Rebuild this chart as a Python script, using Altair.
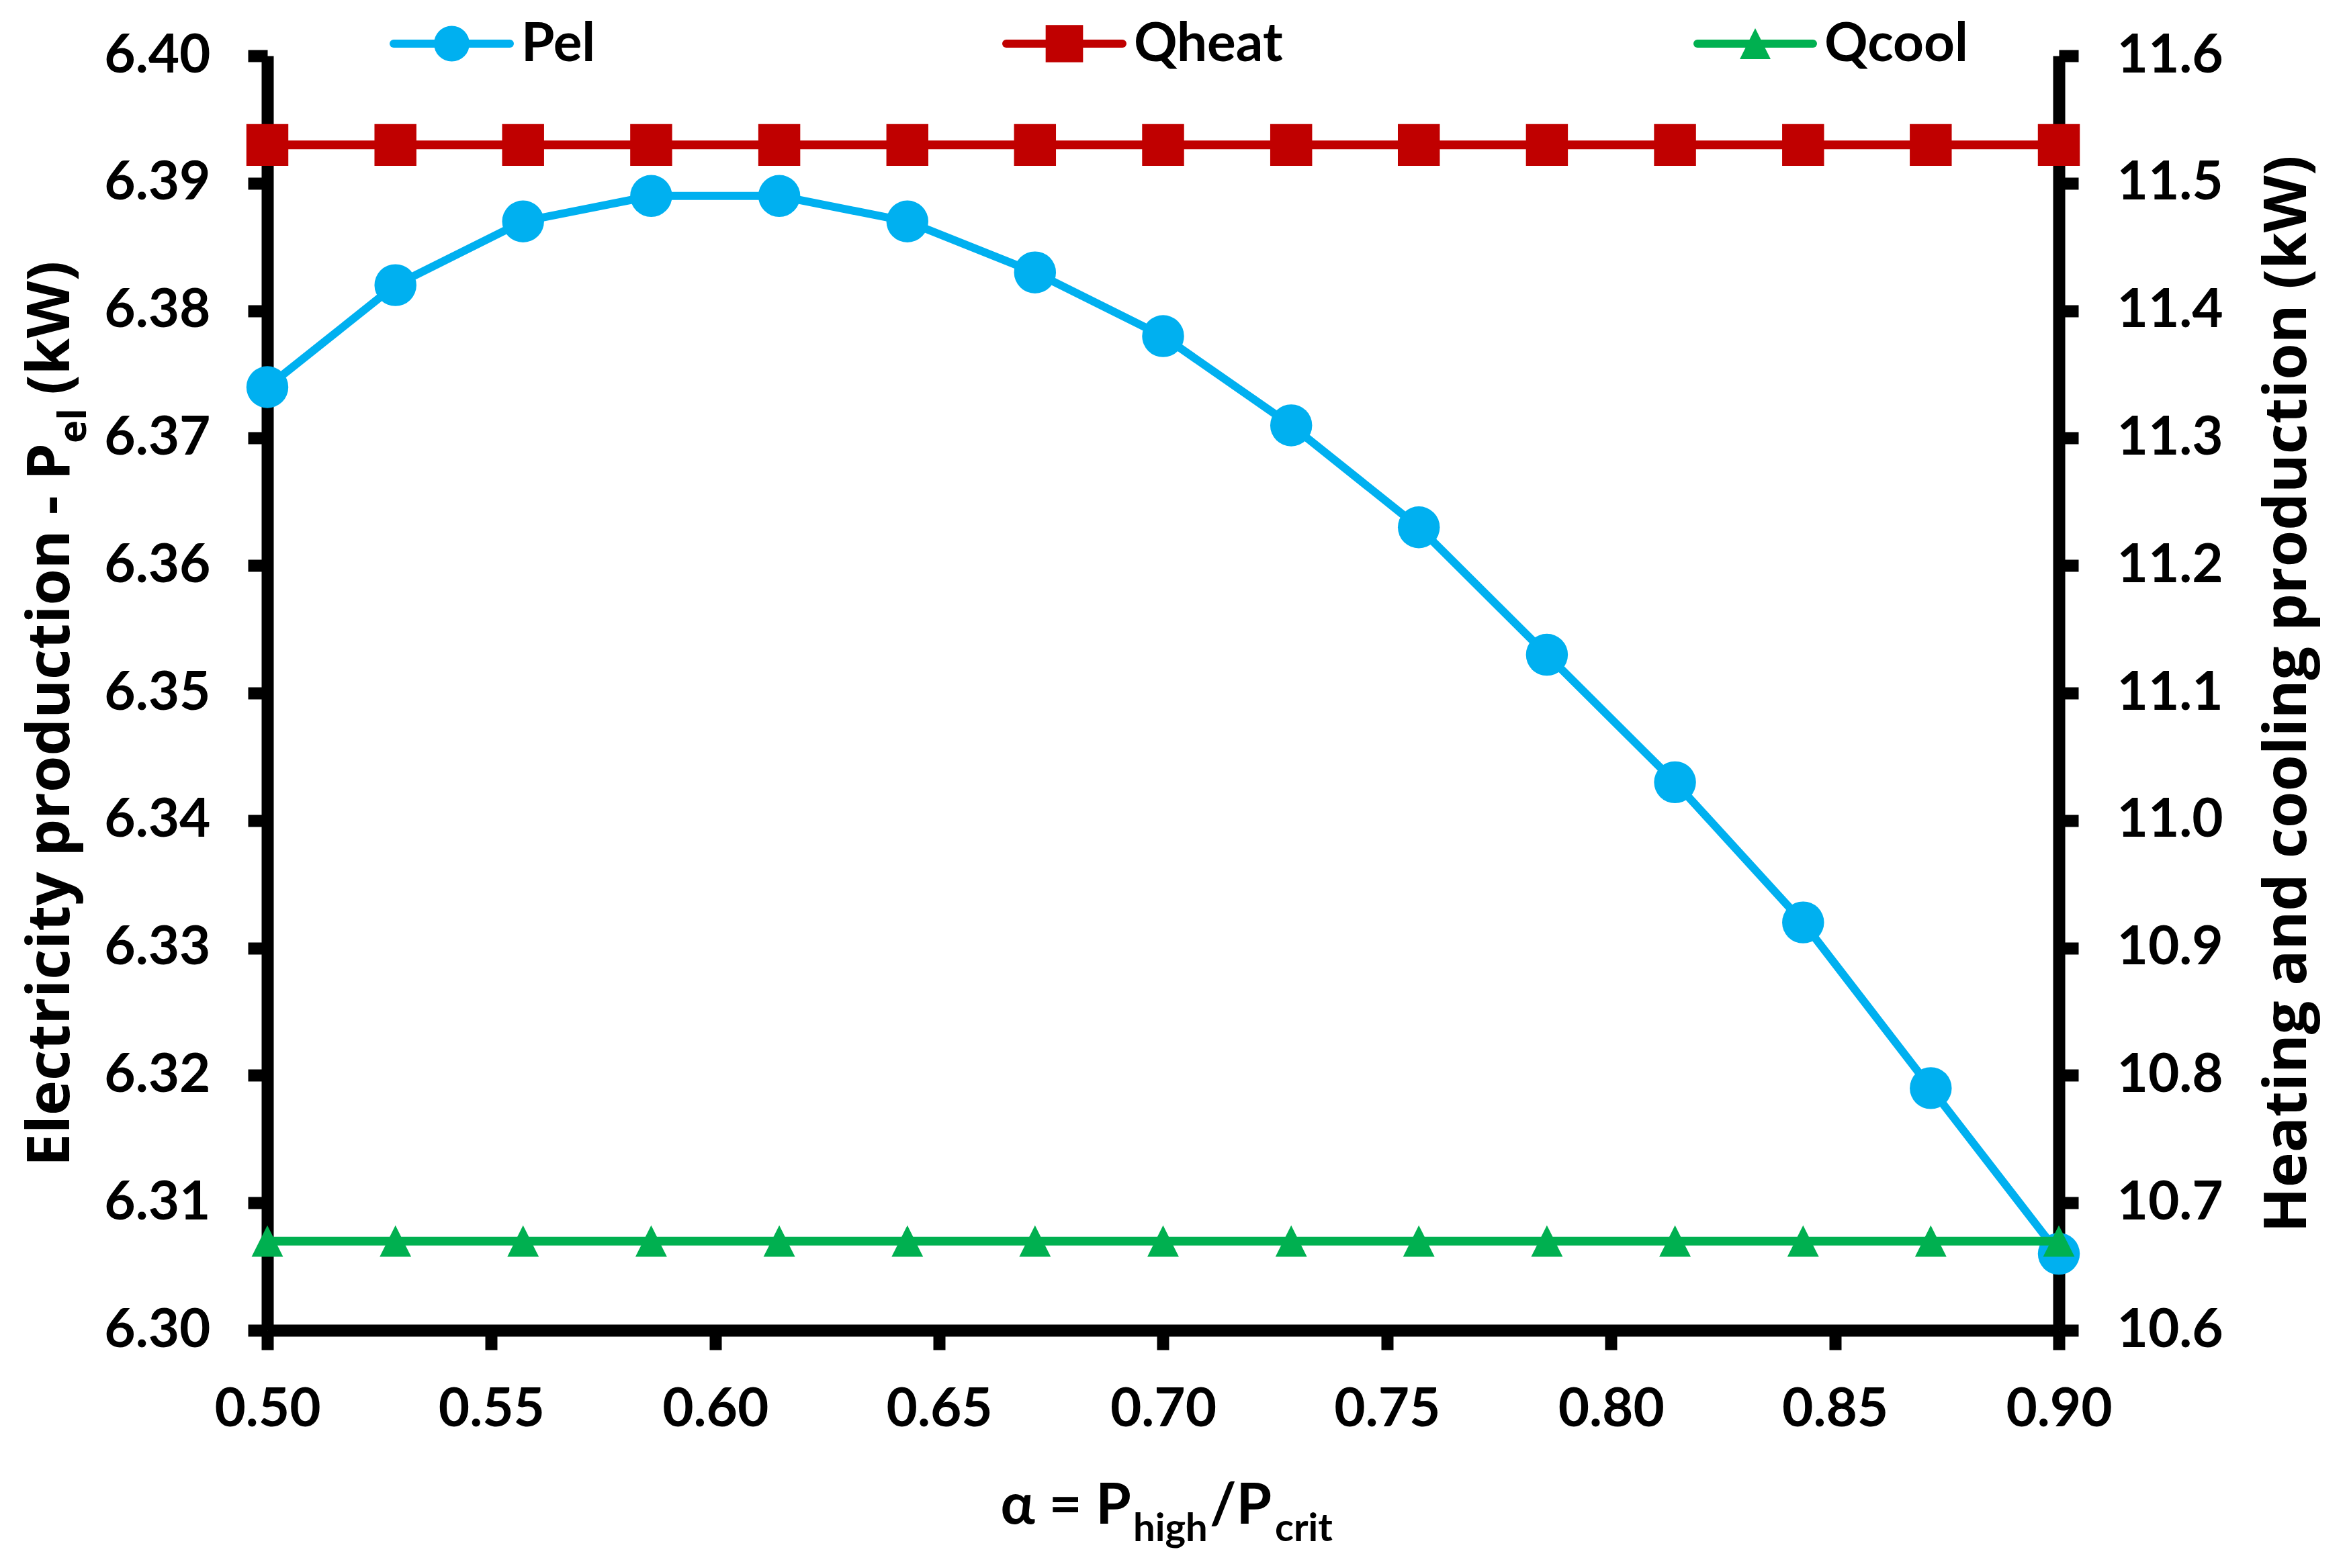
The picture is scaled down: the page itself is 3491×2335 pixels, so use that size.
import altair as alt
import pandas as pd

# ---------------- data ----------------
alpha = [0.5, 0.5286, 0.5571, 0.5857, 0.6143, 0.6429, 0.6714, 0.7,
         0.7286, 0.7571, 0.7857, 0.8143, 0.8429, 0.8714, 0.9]
pel = [6.374, 6.382, 6.387, 6.389, 6.389, 6.387, 6.383, 6.378,
       6.371, 6.363, 6.353, 6.343, 6.332, 6.319, 6.306]
qheat = [11.53, 11.53, 11.53, 11.53, 11.53, 11.53, 11.53, 11.53,
         11.53, 11.53, 11.53, 11.53, 11.53, 11.53, 11.53]
qcool = [10.67, 10.67, 10.67, 10.67, 10.67, 10.67, 10.67, 10.67,
         10.67, 10.67, 10.67, 10.67, 10.67, 10.67, 10.67]

x_ticks = [0.50, 0.55, 0.60, 0.65, 0.70, 0.75, 0.80, 0.85, 0.90]
left_ticks = [6.30, 6.31, 6.32, 6.33, 6.34, 6.35, 6.36, 6.37, 6.38, 6.39, 6.40]
right_ticks = [10.6, 10.7, 10.8, 10.9, 11.0, 11.1, 11.2, 11.3, 11.4, 11.5, 11.6]

series_names = ["Pel", "Qheat", "Qcool"]
series_colors = ["#00B0F0", "#C00000", "#00B050"]

left_title = "Electricity production - P"
left_sub = "el"
left_unit = "(kW)"
right_title = "Heating and cooling production (kW)"

W, H = 2667, 1898
TICK_FONT = "Lato"
TITLE_FONT = "Open Sans"
TRI = "M0,-1L1,1L-1,1Z"

df_pel = pd.DataFrame({"alpha": alpha, "v": pel})
df_heat = pd.DataFrame({"alpha": alpha, "v": qheat})
df_cool = pd.DataFrame({"alpha": alpha, "v": qcool})

x_enc = alt.X("alpha:Q",
              scale=alt.Scale(domain=[0.5, 0.9], nice=False, zero=False),
              axis=alt.Axis(values=x_ticks, format=".2f", title=None,
                            labelPadding=50, labelFlush=False,
                            labelOverlap=False))

yl = alt.Y("v:Q", scale=alt.Scale(domain=[6.30, 6.40], nice=False, zero=False),
           axis=alt.Axis(values=left_ticks, format=".2f", orient="left",
                         title=None, labelPadding=56, labelFlush=False,
                         labelOverlap=False))

yr = alt.Y("v:Q", scale=alt.Scale(domain=[10.6, 11.6], nice=False, zero=False),
           axis=alt.Axis(values=right_ticks, format=".1f", orient="right",
                         title=right_title, titleFont=TITLE_FONT,
                         titleFontSize=88, titleFontWeight="bold",
                         titleColor="black", titleAngle=270,
                         titleAlign="center", titleBaseline="alphabetic",
                         titleX=367, titleY=950, labelPadding=57,
                         labelFlush=False, labelOverlap=False))

pel_line = alt.Chart(df_pel).mark_line(color=series_colors[0], strokeWidth=12).encode(x=x_enc, y=yl)
pel_pts = alt.Chart(df_pel).mark_point(filled=True, opacity=1, shape="circle",
                                      size=3900, color=series_colors[0]).encode(x=x_enc, y=yl)
left = alt.layer(pel_line, pel_pts)

heat_line = alt.Chart(df_heat).mark_line(color=series_colors[1], strokeWidth=13).encode(x=x_enc, y=yr)
heat_pts = alt.Chart(df_heat).mark_point(filled=True, opacity=1, shape="square",
                                        size=3900, color=series_colors[1]).encode(x=x_enc, y=yr)
cool_line = alt.Chart(df_cool).mark_line(color=series_colors[2], strokeWidth=13).encode(x=x_enc, y=yr)
cool_pts = alt.Chart(df_cool).mark_point(filled=True, opacity=1, shape=TRI,
                                        size=2200, color=series_colors[2]).encode(x=x_enc, y=yr)
right = alt.layer(heat_line, heat_pts, cool_line, cool_pts)


def txt(s, x, y, size, font, angle=0, align="left"):
    return alt.Chart(pd.DataFrame({"t": [s]})).mark_text(
        font=font, fontSize=size, fontWeight="bold", angle=angle, align=align,
        baseline="alphabetic", color="black"
    ).encode(x=alt.value(x), y=alt.value(y), text="t:N")


extras = []
# left axis title with subscript
extras.append(txt(left_title, -295, 577, 88, TITLE_FONT, angle=270, align="right"))
extras.append(txt(left_sub, -270, 577, 58, TITLE_FONT, angle=270, align="left"))
extras.append(txt(left_unit, -295, 505, 88, TITLE_FONT, angle=270, align="left"))
# x axis title with subscripts
extras.append(txt("\u03b1 = P", 1286, 2186, 85, TICK_FONT, align="right"))
extras.append(txt("high", 1289, 2212, 58, TICK_FONT))
extras.append(txt("/P", 1403, 2186, 85, TICK_FONT))
extras.append(txt("crit", 1500, 2212, 58, TICK_FONT))

# legend (line + marker + label)
leg_x = [(188, 361), (1100, 1273), (2129, 2301)]
leg_shapes = ["circle", "square", TRI]
leg_sizes = [2800, 3100, 2100]
for i, name in enumerate(series_names):
    x0, x1 = leg_x[i]
    d = pd.DataFrame({"label": [name]})
    extras.append(alt.Chart(d).mark_rule(color=series_colors[i], strokeWidth=12,
                                         strokeCap="round").encode(
        x=alt.value(x0), x2=alt.value(x1), y=alt.value(-18)))
    extras.append(alt.Chart(d).mark_point(filled=True, opacity=1, shape=leg_shapes[i],
                                          size=leg_sizes[i], color=series_colors[i]).encode(
        x=alt.value((x0 + x1) / 2), y=alt.value(-18)))
    extras.append(alt.Chart(d).mark_text(font=TICK_FONT, fontSize=80, fontWeight="bold",
                                         align="left", baseline="alphabetic",
                                         color="black").encode(
        x=alt.value(x1 + 17), y=alt.value(8), text="label:N"))

chart = alt.layer(left, right, *extras).resolve_scale(y="independent").properties(
    width=W, height=H,
    autosize=alt.AutoSizeParams(type="none"),
    padding={"left": 390, "top": 75, "right": 418, "bottom": 346},
    background="white",
).configure_view(stroke=None).configure_axis(
    grid=False,
    domainColor="black", domainWidth=18,
    tickColor="black", tickWidth=18, tickSize=29,
    labelFont=TICK_FONT, labelFontSize=80, labelFontWeight="bold", labelColor="black",
)

chart.save("out.html", embed_options={"renderer": "svg", "actions": False})
